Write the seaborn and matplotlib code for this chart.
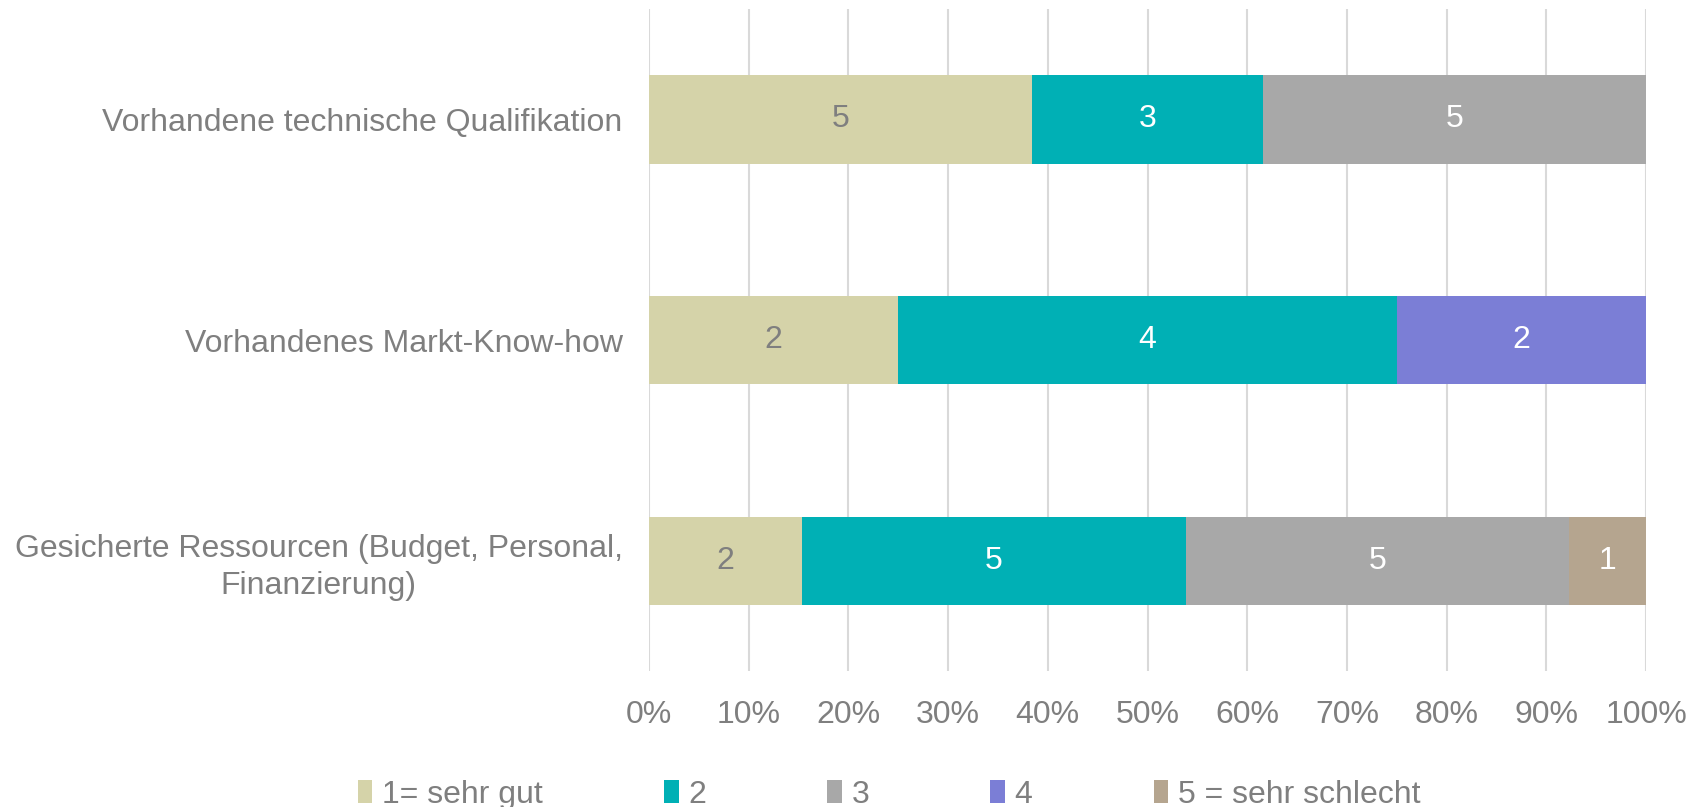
import numpy as np
import pandas as pd
import matplotlib
matplotlib.use("Agg")
import matplotlib.pyplot as plt
import seaborn as sns
from matplotlib.patches import Patch

# Daten
kategorien = [
    "Vorhandene technische Qualifikation",
    "Vorhandenes Markt-Know-how",
    "Gesicherte Ressourcen (Budget, Personal,\nFinanzierung)",
]
stufen = ["1= sehr gut", "2", "3", "4", "5 = sehr schlecht"]
anzahl_1 = [5, 2, 2]
anzahl_2 = [3, 4, 5]
anzahl_3 = [5, 0, 5]
anzahl_4 = [0, 2, 0]
anzahl_5 = [0, 0, 1]

farben = ["#D5D3A9", "#00B0B5", "#A8A8A8", "#7B7ED6", "#B5A58F"]
textfarben = ["#7F7F7F", "white", "white", "white", "white"]
grau = "#7F7F7F"

counts = np.array([anzahl_1, anzahl_2, anzahl_3, anzahl_4, anzahl_5], dtype=float)
anteile = counts / counts.sum(axis=0) * 100
kumuliert = anteile.cumsum(axis=0)

sns.set_style("white")
plt.rcParams["font.family"] = ["Liberation Sans", "DejaVu Sans"]

fig = plt.figure(figsize=(16.97, 8.07), dpi=100)
ax = fig.add_axes([0.3824, 0.1685, 0.5876, 0.8203])

# gestapelte Balken: kumulierte Werte von hinten nach vorne zeichnen
for i in reversed(range(len(stufen))):
    df = pd.DataFrame({"kategorie": kategorien, "wert": kumuliert[i]})
    sns.barplot(data=df, x="wert", y="kategorie", orient="h", color=farben[i],
                saturation=1, width=0.4, linewidth=0, ax=ax, zorder=2)

# Beschriftungen
for i in range(len(stufen)):
    for j in range(len(kategorien)):
        if counts[i, j] > 0:
            ax.text(kumuliert[i, j] - anteile[i, j] / 2, j, f"{int(counts[i, j])}",
                    ha="center", va="center", fontsize=23, color=textfarben[i], zorder=3)

ax.set_xlim(0, 100)
ax.set_ylim(2.5, -0.5)
ax.set_xticks(np.arange(0, 101, 10))
ax.set_xticklabels([f"{v}%" for v in range(0, 101, 10)])
ax.set_xlabel("")
ax.set_ylabel("")
ax.grid(axis="x", color="#D9D9D9", linewidth=1.5, zorder=0)
ax.set_axisbelow(True)
for s in ax.spines.values():
    s.set_visible(False)
ax.tick_params(axis="x", length=0, pad=21, labelsize=23, labelcolor=grau)
ax.tick_params(axis="y", length=0, pad=19, labelsize=23, labelcolor=grau)
for lab in ax.get_yticklabels():
    lab.set_multialignment("center")
    lab.set_linespacing(1.3)

handles = [Patch(facecolor=c, edgecolor="none") for c in farben]
fig.legend(handles, stufen, loc="center left", bbox_to_anchor=(0.211, 0.015),
           ncol=5, frameon=False, fontsize=23, labelcolor=grau,
           handlelength=0.45, handleheight=0.75, handletextpad=0.3,
           columnspacing=3.8, borderaxespad=0, borderpad=0)

fig.savefig("out.png", dpi=100)
